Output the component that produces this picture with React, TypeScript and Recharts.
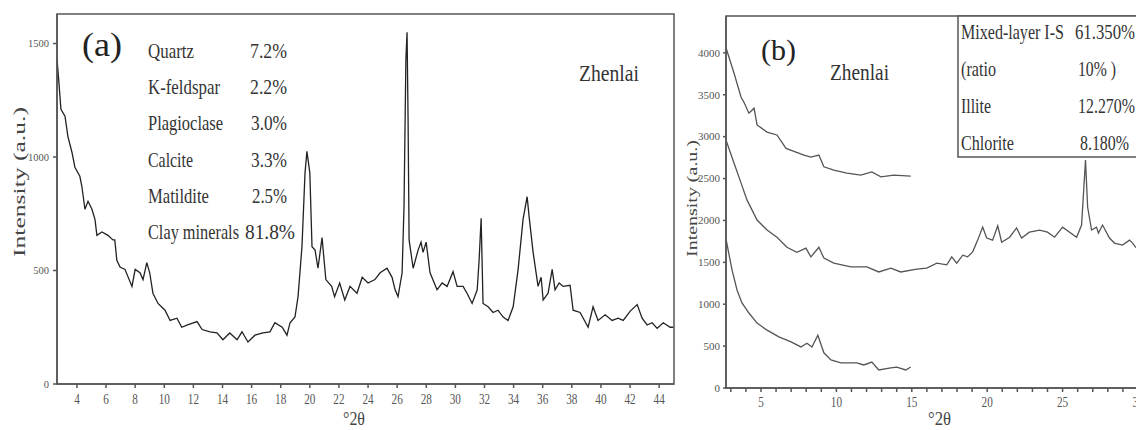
import React from 'react';
import { LineChart, Line, XAxis, YAxis, ReferenceArea } from 'recharts';

const FONT = '"Liberation Serif", "Times New Roman", serif';
const AXIS = '#555';

// ---- panel (a): whole-rock XRD, Zhenlai ----
const twoThetaA = [
  2.63, 2.76, 2.9, 3.18, 3.38, 3.66, 3.86, 4.2, 4.34, 4.55, 4.76, 5.03, 5.24, 5.37, 5.72, 6.13, 6.47, 6.6, 6.74, 6.96,
  7.3, 7.78, 8.0, 8.33, 8.54, 8.8, 9.0, 9.22, 9.57, 10.05, 10.4, 10.87, 11.2, 11.6, 12.25, 12.6,
  13.14, 13.62, 14.03, 14.5, 15.0, 15.34, 15.75, 16.23, 16.78, 17.26, 17.6, 18.1, 18.43, 18.64, 18.98, 19.19, 19.46, 19.67, 19.8,
  20.0, 20.15, 20.36, 20.56, 20.84, 21.1, 21.5, 21.7, 22.05, 22.4, 22.76, 23.24, 23.6, 24.0, 24.47, 24.83, 25.3, 25.65, 25.86,
  26.06, 26.34, 26.47, 26.6, 26.68, 26.75, 26.82, 27.1, 27.44, 27.64, 27.78, 27.99, 28.26, 28.74, 29.09, 29.43, 29.84,
  30.12, 30.53, 30.8, 31.15, 31.5, 31.63, 31.77, 31.9, 32.25, 32.59, 32.93, 33.28, 33.62, 33.97, 34.31, 34.65, 34.93,
  35.07, 35.34, 35.68, 35.89, 36.03, 36.37, 36.65, 36.85, 37.13, 37.4, 37.88, 38.09, 38.57, 39.12, 39.46, 39.8,
  40.29, 40.77, 41.18, 41.53, 42.0, 42.49, 42.83, 43.17, 43.52, 43.86, 44.28, 44.76, 44.97,
];
const intensityA = [
  1430, 1330, 1210, 1180, 1090, 1020, 955, 915, 870, 770, 805, 770, 725, 655, 670, 655, 635, 635, 545, 515,
  505, 430, 505, 490, 460, 535, 490, 400, 355, 325, 280, 290, 250, 260, 275, 240,
  230, 225, 195, 225, 195, 230, 185, 215, 225, 230, 270, 250, 215, 270, 295, 385, 605, 930, 1025,
  930, 605, 590, 510, 645, 460, 430, 385, 445, 370, 430, 400, 470, 445, 460, 490, 510, 470, 415,
  385, 490, 780, 1430, 1550, 1165, 635, 510, 590, 625, 580, 625, 490, 415, 445, 430, 495,
  430, 430, 400, 355, 415, 545, 730, 355, 340, 315, 325, 295, 280, 340, 505, 725, 825,
  735, 580, 430, 470, 370, 400, 505, 415, 445, 430, 435, 325, 315, 250, 340, 280,
  305, 280, 290, 280, 320, 350, 290, 260, 270, 245, 270, 250, 250,
];
const minerals = ['Quartz', 'K-feldspar', 'Plagioclase', 'Calcite', 'Matildite', 'Clay minerals'];
const mineralPct = ['7.2%', '2.2%', '3.0%', '3.3%', '2.5%', '81.8%'];
const xTicksA = [4, 6, 8, 10, 12, 14, 16, 18, 20, 22, 24, 26, 28, 30, 32, 34, 36, 38, 40, 42, 44];
const yTicksA = [0, 500, 1000, 1500];

// ---- panel (b): clay fraction, three traces ----
const twoThetaB1 = [2.7, 3.21, 3.68, 3.87, 4.2, 4.54, 4.74, 5.4, 6.06, 6.66, 7.32, 7.85, 8.31, 8.84, 9.17, 9.83, 10.7, 11.62, 12.35, 12.95, 13.81, 14.93];
const intensityB1 = [4050, 3760, 3470, 3410, 3280, 3340, 3140, 3055, 3020, 2860, 2815, 2780, 2755, 2780, 2640, 2600, 2565, 2540, 2580, 2520, 2540, 2530];

const twoThetaB2 = [
  2.7, 3.21, 3.68, 4.07, 4.74, 5.4, 6.06, 6.72, 7.38, 7.98, 8.31, 8.84, 9.17, 9.83, 10.96, 12.02, 12.81, 13.61, 14.27,
  15.33, 15.99, 16.66, 17.32, 17.65, 17.98, 18.38, 18.7, 19.04, 19.37, 19.7, 19.97, 20.36, 20.7, 20.96, 21.49, 21.95, 22.28,
  22.8, 23.48, 24.0, 24.47, 25.0, 25.93, 26.26, 26.4, 26.52, 26.66, 26.92, 27.25, 27.38, 27.65, 28.11, 28.44, 28.97,
  29.44, 29.64, 29.84, 30.2,
];
const intensityB2 = [
  2950, 2685, 2445, 2245, 2005, 1885, 1800, 1680, 1620, 1670, 1565, 1680, 1550, 1490, 1445, 1445, 1385, 1430, 1385,
  1420, 1430, 1490, 1470, 1565, 1490, 1585, 1565, 1625, 1765, 1920, 1790, 1765, 1935, 1740, 1800, 1910, 1790,
  1860, 1885, 1860, 1800, 1920, 1800, 1945, 2360, 2720, 2160, 1885, 1920, 1850, 1945, 1790, 1730, 1705,
  1765, 1730, 1680, 1720,
];

const twoThetaB3 = [2.7, 3.08, 3.41, 3.74, 4.2, 4.74, 5.4, 6.19, 6.99, 7.65, 8.05, 8.38, 8.77, 9.17, 9.64, 10.3, 11.36, 11.82, 12.35, 12.81, 13.61, 14.0, 14.6, 14.93];
const intensityB3 = [1760, 1410, 1170, 1015, 895, 775, 690, 610, 550, 490, 535, 490, 630, 420, 335, 300, 300, 275, 310, 215, 240, 250, 215, 250];

const clayNames = ['Mixed-layer I-S', '(ratio', 'Illite', 'Chlorite'];
const clayPct = ['61.350%', '10% )', '12.270%', '8.180%'];
const xTicksB = [3, 4, 5, 6, 7, 8, 9, 10, 11, 12, 13, 14, 15, 16, 17, 18, 19, 20, 21, 22, 23, 24, 25, 26, 27, 28, 29, 30];
const yTicksB = [0, 500, 1000, 1500, 2000, 2500, 3000, 3500, 4000];

const zip = (xs: number[], ys: number[]) => xs.map((x, i) => ({ x, y: ys[i] }));
const dataA = zip(twoThetaA, intensityA);
const dataB1 = zip(twoThetaB1, intensityB1);
const dataB2 = zip(twoThetaB2, intensityB2);
const dataB3 = zip(twoThetaB3, intensityB3);

const X_A: [number, number] = [2.63, 45.02];
const Y_A: [number, number] = [0, 1630];
const X_B: [number, number] = [2.68, 30.2];
const Y_B: [number, number] = [0, 4440];

const makeXTick = (size: number, every: number) => (props: any) => {
  const { x, y, payload } = props;
  const v = payload.value;
  if (v % every !== 0) return <g />;
  const s = String(v);
  return (
    <text x={x} y={y} dy="0.71em" textAnchor="middle" fontSize={size} fill={AXIS} fontFamily={FONT}
      textLength={s.length * size * 0.4} lengthAdjust="spacingAndGlyphs">
      {s}
    </text>
  );
};

const yTick = (size: number) => (props: any) => {
  const { x, y, payload } = props;
  return (
    <text x={x} y={y} dy="0.35em" textAnchor="end" fontSize={size} fill={AXIS} fontFamily={FONT}>
      {payload.value}
    </text>
  );
};

const T = (p: { x: number; y: number; size: number; len?: number; children: React.ReactNode; fill?: string }) => (
  <text x={p.x} y={p.y} fontSize={p.size} fontFamily={FONT} fill={p.fill || '#333'}
    textLength={p.len} lengthAdjust={p.len ? 'spacingAndGlyphs' : undefined}>
    {p.children}
  </text>
);

const labelLenA = [46, 72, 75, 45, 61, 91];
const pctXA = [250, 250, 251, 251, 252, 245];
const pctLenA = [37, 37, 36, 36, 35, 50];
const clayLen = [103, 35, 30, 53];
const clayPctX = [1075, 1078, 1078, 1080];
const clayPctLen = [60, 38, 57, 49];

export default function App() {
  return (
    <div style={{ position: 'absolute', left: 0, top: 0, width: 1136, height: 430, overflow: 'hidden', background: '#fff' }}>
      <div style={{ position: 'absolute', left: 0, top: 0 }}>
        <LineChart width={690} height={430} margin={{ top: 14, right: 16, left: 12, bottom: 16 }}>
          <XAxis dataKey="x" type="number" domain={X_A} ticks={xTicksA} interval={0} allowDataOverflow height={30}
            stroke={AXIS} strokeWidth={1.5} tickSize={4} tickMargin={6} tick={makeXTick(14, 2)} />
          <YAxis type="number" domain={Y_A} ticks={yTicksA} interval={0} allowDataOverflow width={45}
            stroke={AXIS} strokeWidth={1.5} tickSize={4} tickMargin={4} tick={yTick(10.5)} />
          <ReferenceArea x1={X_A[0]} x2={X_A[1]} y1={Y_A[0]} y2={Y_A[1]} fillOpacity={0} stroke={AXIS} strokeWidth={1.5} />
          <Line data={dataA} dataKey="y" type="linear" stroke="#222" strokeWidth={1.3} dot={false} isAnimationActive={false} />
        </LineChart>
      </div>
      <div style={{ position: 'absolute', left: 690, top: 0 }}>
        <LineChart width={470} height={430} margin={{ top: 16, right: 19, left: 6, bottom: 12 }}>
          <XAxis dataKey="x" type="number" domain={X_B} ticks={xTicksB} interval={0} allowDataOverflow height={30}
            stroke={AXIS} strokeWidth={1.5} tickSize={4} tickMargin={5} tick={makeXTick(14, 5)} />
          <YAxis type="number" domain={Y_B} ticks={yTicksB} interval={0} allowDataOverflow width={30}
            stroke={AXIS} strokeWidth={1.5} tickSize={3} tickMargin={3} tick={yTick(11)} />
          <ReferenceArea x1={X_B[0]} x2={X_B[1]} y1={Y_B[0]} y2={Y_B[1]} fillOpacity={0} stroke={AXIS} strokeWidth={1.5} />
          <Line data={dataB1} dataKey="y" type="linear" stroke="#555" strokeWidth={1.3} dot={false} isAnimationActive={false} />
          <Line data={dataB2} dataKey="y" type="linear" stroke="#555" strokeWidth={1.3} dot={false} isAnimationActive={false} />
          <Line data={dataB3} dataKey="y" type="linear" stroke="#555" strokeWidth={1.3} dot={false} isAnimationActive={false} />
        </LineChart>
      </div>
      <svg width={1136} height={430} style={{ position: 'absolute', left: 0, top: 0, pointerEvents: 'none' }}>
        {/* panel (a) annotations */}
        <T x={82} y={56} size={33} len={40} fill="#222">(a)</T>
        {minerals.map((m, i) => (
          <T key={m} x={148} y={58 + i * 36.2} size={21} len={labelLenA[i]}>{m}</T>
        ))}
        {mineralPct.map((p, i) => (
          <T key={i} x={pctXA[i]} y={58 + i * 36.2} size={21} len={pctLenA[i]}>{p}</T>
        ))}
        <T x={579} y={81} size={23} len={60}>Zhenlai</T>
        <text transform="translate(25,257) rotate(-90)" fontSize={17} fontFamily={FONT} fill="#444"
          textLength={150} lengthAdjust="spacingAndGlyphs">Intensity (a.u.)</text>
        <T x={343} y={425} size={18} len={22} fill="#444">°2θ</T>

        {/* panel (b) annotations */}
        <T x={761} y={60} size={29} len={35} fill="#222">(b)</T>
        <T x={830} y={80} size={23} len={59}>Zhenlai</T>
        <rect x={958} y={16} width={200} height={141} fill="#fff" stroke={AXIS} strokeWidth={1.5} />
        {clayNames.map((c, i) => (
          <T key={c} x={961} y={39 + i * 37} size={21} len={clayLen[i]}>{c}</T>
        ))}
        {clayPct.map((p, i) => (
          <T key={i} x={clayPctX[i]} y={39 + i * 37} size={21} len={clayPctLen[i]}>{p}</T>
        ))}
        <text transform="translate(697,257) rotate(-90)" fontSize={15} fontFamily={FONT} fill="#444"
          textLength={117} lengthAdjust="spacingAndGlyphs">Intensity (a.u.)</text>
        <T x={928} y={425} size={18} len={23} fill="#444">°2θ</T>
      </svg>
    </div>
  );
}
